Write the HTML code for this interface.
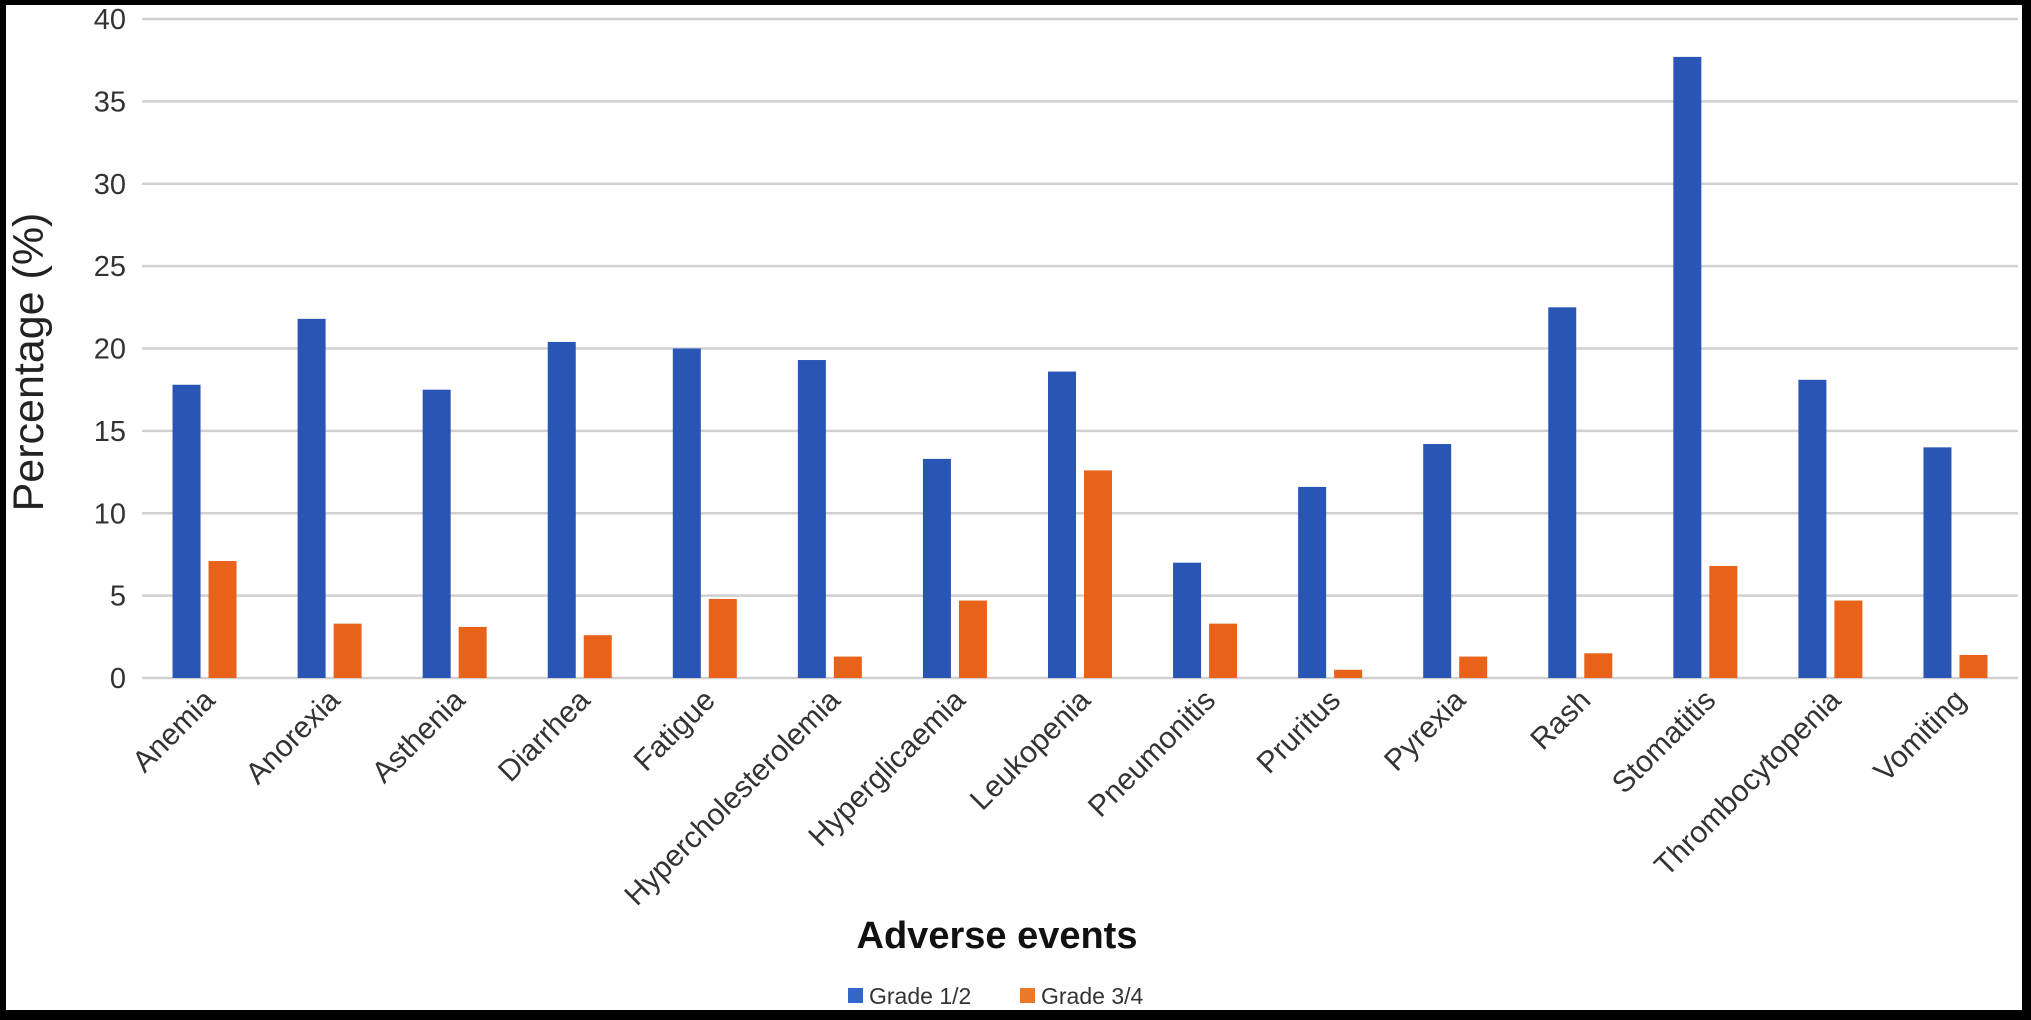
<!DOCTYPE html>
<html><head><meta charset="utf-8"><style>
html,body{margin:0;padding:0;background:#000;}
svg{display:block;font-family:"Liberation Sans",Arial,sans-serif;}
</style></head><body>
<svg id="chart" width="2031" height="1020" viewBox="0 0 2031 1020">
<rect x="6" y="5" width="2016" height="1005" fill="#fff"/>
<g id="grid"></g><g id="bars"></g><g id="xlabels"></g>
<text x="0" y="0" transform="translate(43,362) rotate(-90)" text-anchor="middle" font-size="43" fill="#222">Percentage (%)</text>
<text x="997" y="948" text-anchor="middle" font-size="38" font-weight="bold" fill="#111">Adverse events</text>
<g>
<g><rect x="848" y="988" width="15" height="15" fill="#3465c8"/><text x="869" y="1004" font-size="23" fill="#333">Grade 1/2</text></g>
<g><rect x="1020" y="988" width="15" height="15" fill="#ea7a2a"/><text x="1041" y="1004" font-size="23" fill="#333">Grade 3/4</text></g>
</g>
<rect x="0" y="1010" width="2031" height="10" fill="#000"/>
</svg>
<script>
const categories=["Anemia","Anorexia","Asthenia","Diarrhea","Fatigue","Hypercholesterolemia","Hyperglicaemia","Leukopenia","Pneumonitis","Pruritus","Pyrexia","Rash","Stomatitis","Thrombocytopenia","Vomiting"];
const grade12=[17.8,21.8,17.5,20.4,20.0,19.3,13.3,18.6,7.0,11.6,14.2,22.5,37.7,18.1,14.0];
const grade34=[7.1,3.3,3.1,2.6,4.8,1.3,4.7,12.6,3.3,0.5,1.3,1.5,6.8,4.7,1.4];
const yTicks=[0,5,10,15,20,25,30,35,40];
const NS="http://www.w3.org/2000/svg";
const L=142,R=2018,Y0=678,Y40=19;
const y=v=>Y0-(Y0-Y40)*v/40;
const band=(R-L)/categories.length;
const xc=i=>L+band*(i+0.5);
const grid=document.getElementById('grid'),bars=document.getElementById('bars'),xl=document.getElementById('xlabels');
function mk(tag,attrs,parent){const e=document.createElementNS(NS,tag);for(const k in attrs)e.setAttribute(k,attrs[k]);parent.appendChild(e);return e;}
yTicks.forEach(t=>{
  const ln=mk('line',{x1:L,x2:R,y1:y(t),y2:y(t),stroke:'#d0d0d0','stroke-width':2.5},grid);
  
  
  const tx=mk('text',{x:126,y:y(t)+10,'text-anchor':'end','font-size':29,fill:'#333'},grid);
  tx.textContent=t;
  
  
});
categories.forEach((c,i)=>{
  const cx=xc(i);
  const b1=mk('rect',{x:cx-32,y:y(grade12[i]),width:28,height:Y0-y(grade12[i]),fill:'#2955b5'},bars);
  
  
  const b2=mk('rect',{x:cx+4,y:y(grade34[i]),width:28,height:Y0-y(grade34[i]),fill:'#e8621a'},bars);
  
  
  const t=mk('text',{x:0,y:0,'text-anchor':'end','font-size':30,fill:'#333',transform:`translate(${cx+12},${Y0+24}) rotate(-45)`},xl);
  t.textContent=c;
  
  
});
</script>
</body></html>
